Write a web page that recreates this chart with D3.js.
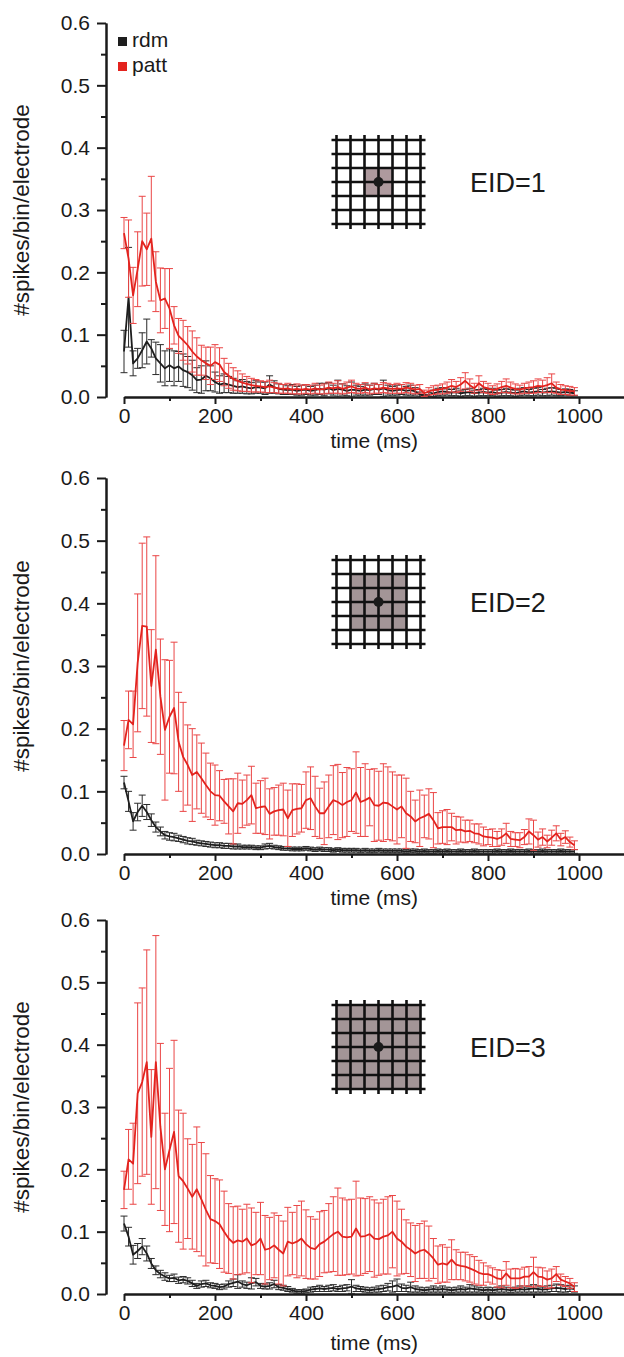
<!DOCTYPE html>
<meta charset="utf-8">
<title>Spikes per bin per electrode</title>
<style>
body { margin: 0; background: #fff; }
svg { display: block; font-family: "Liberation Sans", Arial, sans-serif; }
.axis path, .axis line { stroke: #1a1a1a; stroke-width: 2px; }
.axis text { font-size: 21px; fill: #1a1a1a; font-family: "Liberation Sans", Arial, sans-serif; }
</style>
<script src="https://d3js.org/d3.v7.min.js"></script>
<body>
<script>
// bins are 10 ms wide, first bin at 0 ms
var binMs = 10;
var seriesNames = ["rdm", "patt"];
var xTicks = [0, 200, 400, 600, 800, 1000];
var yTicks = [0.0, 0.1, 0.2, 0.3, 0.4, 0.5, 0.6];
var eidLabels = ["EID=1", "EID=2", "EID=3"];

// ---- EID=1 ----
var p1RdmMean = [
  0.073, 0.160, 0.054, 0.062, 0.075, 0.089, 0.078, 0.062, 0.054, 0.046,
  0.051, 0.046, 0.049, 0.043, 0.040, 0.035, 0.027, 0.028, 0.034, 0.030,
  0.024, 0.020, 0.022, 0.020, 0.018, 0.016, 0.017, 0.015, 0.014, 0.016,
  0.015, 0.014, 0.020, 0.016, 0.013, 0.012, 0.011, 0.012, 0.010, 0.011,
  0.012, 0.010, 0.011, 0.013, 0.012, 0.014, 0.011, 0.013, 0.012, 0.010,
  0.012, 0.011, 0.010, 0.012, 0.011, 0.013, 0.012, 0.014, 0.011, 0.010,
  0.011, 0.012, 0.010, 0.011, 0.009, 0.004, 0.001, 0.003, 0.006, 0.008,
  0.009, 0.008, 0.007, 0.008, 0.006, 0.007, 0.008, 0.006, 0.007, 0.008,
  0.007, 0.008, 0.006, 0.007, 0.008, 0.007, 0.006, 0.008, 0.009, 0.007,
  0.008, 0.009, 0.007, 0.008, 0.009, 0.008, 0.007, 0.008, 0.007, 0.006];
var p1RdmErr = [
  0.034, 0.080, 0.020, 0.016, 0.028, 0.036, 0.014, 0.026, 0.030, 0.028,
  0.026, 0.028, 0.024, 0.026, 0.025, 0.024, 0.020, 0.022, 0.024, 0.020,
  0.016, 0.014, 0.015, 0.013, 0.012, 0.010, 0.011, 0.010, 0.009, 0.010,
  0.009, 0.010, 0.014, 0.010, 0.008, 0.008, 0.007, 0.008, 0.007, 0.008,
  0.008, 0.007, 0.008, 0.009, 0.010, 0.009, 0.008, 0.014, 0.009, 0.008,
  0.012, 0.008, 0.007, 0.009, 0.008, 0.009, 0.008, 0.013, 0.008, 0.007,
  0.008, 0.008, 0.007, 0.008, 0.006, 0.004, 0.003, 0.004, 0.005, 0.006,
  0.006, 0.005, 0.005, 0.006, 0.005, 0.005, 0.006, 0.005, 0.005, 0.006,
  0.005, 0.006, 0.005, 0.005, 0.006, 0.005, 0.005, 0.006, 0.006, 0.005,
  0.006, 0.006, 0.005, 0.006, 0.006, 0.006, 0.005, 0.005, 0.005, 0.004];
var p1PattMean = [
  0.263, 0.222, 0.163, 0.205, 0.250, 0.237, 0.254, 0.185, 0.155, 0.158,
  0.142, 0.115, 0.098, 0.091, 0.083, 0.073, 0.065, 0.059, 0.054, 0.050,
  0.056, 0.052, 0.040, 0.034, 0.029, 0.026, 0.023, 0.021, 0.019, 0.018,
  0.017, 0.016, 0.017, 0.015, 0.014, 0.013, 0.014, 0.012, 0.013, 0.012,
  0.013, 0.012, 0.014, 0.012, 0.013, 0.015, 0.014, 0.016, 0.013, 0.015,
  0.017, 0.014, 0.013, 0.015, 0.012, 0.014, 0.013, 0.015, 0.014, 0.013,
  0.014, 0.013, 0.015, 0.014, 0.012, 0.013, 0.006, 0.009, 0.011, 0.012,
  0.013, 0.015, 0.018, 0.016, 0.020, 0.026, 0.019, 0.014, 0.022, 0.016,
  0.014, 0.011, 0.013, 0.016, 0.018, 0.015, 0.013, 0.012, 0.014, 0.015,
  0.016, 0.018, 0.017, 0.019, 0.022, 0.015, 0.012, 0.011, 0.010, 0.009];
var p1PattErr = [
  0.025, 0.062, 0.045, 0.060, 0.072, 0.058, 0.100, 0.048, 0.052, 0.048,
  0.064, 0.030, 0.028, 0.032, 0.030, 0.033, 0.030, 0.024, 0.026, 0.030,
  0.028, 0.027, 0.022, 0.020, 0.018, 0.016, 0.014, 0.012, 0.011, 0.010,
  0.009, 0.009, 0.010, 0.008, 0.008, 0.007, 0.008, 0.007, 0.008, 0.007,
  0.007, 0.007, 0.008, 0.007, 0.008, 0.009, 0.008, 0.010, 0.008, 0.009,
  0.010, 0.008, 0.007, 0.008, 0.007, 0.008, 0.007, 0.008, 0.008, 0.007,
  0.008, 0.007, 0.008, 0.008, 0.007, 0.007, 0.005, 0.006, 0.007, 0.007,
  0.008, 0.009, 0.010, 0.009, 0.011, 0.013, 0.010, 0.008, 0.012, 0.009,
  0.008, 0.007, 0.008, 0.009, 0.011, 0.009, 0.008, 0.007, 0.008, 0.009,
  0.010, 0.011, 0.010, 0.012, 0.015, 0.009, 0.008, 0.007, 0.007, 0.006];

// ---- EID=2 ----
var p2RdmMean = [
  0.114, 0.084, 0.052, 0.067, 0.077, 0.067, 0.054, 0.043, 0.036, 0.030,
  0.028, 0.027, 0.025, 0.023, 0.021, 0.020, 0.018, 0.017, 0.016, 0.015,
  0.014, 0.014, 0.013, 0.013, 0.012, 0.012, 0.011, 0.011, 0.011, 0.010,
  0.010, 0.012, 0.013, 0.011, 0.010, 0.009, 0.009, 0.008, 0.008, 0.008,
  0.009, 0.008, 0.007, 0.008, 0.007, 0.007, 0.006, 0.007, 0.006, 0.006,
  0.006, 0.006, 0.005, 0.006, 0.005, 0.005, 0.006, 0.005, 0.005, 0.005,
  0.005, 0.005, 0.004, 0.005, 0.005, 0.004, 0.005, 0.004, 0.004, 0.005,
  0.004, 0.005, 0.004, 0.004, 0.005, 0.004, 0.004, 0.005, 0.004, 0.004,
  0.004, 0.004, 0.005, 0.004, 0.004, 0.005, 0.004, 0.004, 0.004, 0.005,
  0.004, 0.004, 0.005, 0.004, 0.004, 0.004, 0.005, 0.004, 0.004, 0.004];
var p2RdmErr = [
  0.010, 0.016, 0.014, 0.014, 0.017, 0.012, 0.010, 0.008, 0.007, 0.006,
  0.006, 0.006, 0.005, 0.005, 0.005, 0.005, 0.004, 0.004, 0.004, 0.004,
  0.004, 0.004, 0.004, 0.004, 0.004, 0.004, 0.003, 0.003, 0.003, 0.003,
  0.003, 0.004, 0.004, 0.003, 0.003, 0.003, 0.003, 0.003, 0.003, 0.003,
  0.003, 0.003, 0.003, 0.003, 0.003, 0.003, 0.003, 0.003, 0.003, 0.003,
  0.003, 0.003, 0.003, 0.003, 0.003, 0.003, 0.003, 0.003, 0.003, 0.003,
  0.003, 0.003, 0.003, 0.003, 0.003, 0.003, 0.003, 0.003, 0.003, 0.003,
  0.003, 0.003, 0.003, 0.003, 0.003, 0.003, 0.003, 0.003, 0.003, 0.003,
  0.003, 0.003, 0.003, 0.003, 0.003, 0.003, 0.003, 0.003, 0.003, 0.003,
  0.003, 0.003, 0.003, 0.003, 0.003, 0.003, 0.003, 0.003, 0.003, 0.003];
var p2PattMean = [
  0.173, 0.214, 0.207, 0.305, 0.364, 0.363, 0.268, 0.326, 0.251, 0.198,
  0.219, 0.233, 0.179, 0.155, 0.142, 0.126, 0.131, 0.121, 0.110, 0.100,
  0.094, 0.093, 0.084, 0.076, 0.068, 0.081, 0.080, 0.086, 0.094, 0.073,
  0.075, 0.076, 0.064, 0.068, 0.070, 0.071, 0.057, 0.070, 0.072, 0.073,
  0.086, 0.089, 0.076, 0.065, 0.065, 0.076, 0.086, 0.083, 0.078, 0.083,
  0.086, 0.098, 0.083, 0.086, 0.090, 0.078, 0.077, 0.082, 0.081, 0.076,
  0.071, 0.076, 0.065, 0.060, 0.052, 0.057, 0.060, 0.064, 0.054, 0.041,
  0.043, 0.043, 0.043, 0.038, 0.039, 0.036, 0.037, 0.033, 0.032, 0.028,
  0.027, 0.026, 0.024, 0.027, 0.033, 0.024, 0.023, 0.022, 0.027, 0.036,
  0.030, 0.023, 0.027, 0.020, 0.026, 0.033, 0.023, 0.027, 0.019, 0.014];
var p2PattErr = [
  0.040, 0.046, 0.053, 0.110, 0.132, 0.143, 0.090, 0.150, 0.092, 0.112,
  0.090, 0.105, 0.079, 0.087, 0.064, 0.074, 0.059, 0.056, 0.051, 0.045,
  0.048, 0.040, 0.035, 0.044, 0.052, 0.048, 0.038, 0.040, 0.046, 0.040,
  0.042, 0.045, 0.040, 0.038, 0.040, 0.042, 0.045, 0.042, 0.040, 0.038,
  0.045, 0.050, 0.048, 0.040, 0.050, 0.050, 0.055, 0.060, 0.052, 0.055,
  0.050, 0.065, 0.055, 0.058, 0.045, 0.058, 0.055, 0.062, 0.058, 0.055,
  0.055, 0.050, 0.056, 0.040, 0.034, 0.045, 0.034, 0.040, 0.044, 0.025,
  0.026, 0.028, 0.022, 0.022, 0.020, 0.018, 0.017, 0.015, 0.016, 0.015,
  0.012, 0.014, 0.012, 0.013, 0.016, 0.012, 0.011, 0.012, 0.012, 0.020,
  0.024, 0.012, 0.013, 0.010, 0.012, 0.012, 0.010, 0.010, 0.008, 0.007];

// ---- EID=3 ----
var p3RdmMean = [
  0.113, 0.092, 0.063, 0.069, 0.076, 0.065, 0.049, 0.038, 0.032, 0.028,
  0.025, 0.026, 0.022, 0.023, 0.021, 0.017, 0.013, 0.016, 0.017, 0.014,
  0.013, 0.011, 0.012, 0.016, 0.018, 0.020, 0.016, 0.014, 0.017, 0.019,
  0.013, 0.012, 0.013, 0.016, 0.011, 0.010, 0.008, 0.006, 0.004, 0.004,
  0.005, 0.007, 0.008, 0.009, 0.008, 0.009, 0.010, 0.008, 0.009, 0.010,
  0.012, 0.009, 0.008, 0.007, 0.006, 0.007, 0.008, 0.009, 0.011, 0.012,
  0.014, 0.010, 0.009, 0.011, 0.008, 0.007, 0.006, 0.007, 0.008, 0.007,
  0.008, 0.007, 0.006, 0.007, 0.008, 0.007, 0.009, 0.008, 0.007, 0.006,
  0.007, 0.006, 0.007, 0.008, 0.007, 0.006, 0.007, 0.008, 0.007, 0.008,
  0.009, 0.008, 0.007, 0.008, 0.009, 0.010, 0.009, 0.008, 0.009, 0.008];
var p3RdmErr = [
  0.012, 0.015, 0.015, 0.012, 0.013, 0.012, 0.008, 0.007, 0.006, 0.006,
  0.005, 0.006, 0.005, 0.005, 0.005, 0.005, 0.004, 0.005, 0.005, 0.004,
  0.004, 0.004, 0.004, 0.005, 0.006, 0.011, 0.005, 0.005, 0.009, 0.006,
  0.004, 0.004, 0.005, 0.006, 0.004, 0.004, 0.004, 0.003, 0.003, 0.003,
  0.003, 0.004, 0.004, 0.005, 0.004, 0.005, 0.005, 0.004, 0.005, 0.005,
  0.011, 0.005, 0.004, 0.004, 0.004, 0.004, 0.005, 0.005, 0.006, 0.009,
  0.010, 0.006, 0.005, 0.008, 0.005, 0.004, 0.004, 0.004, 0.005, 0.004,
  0.005, 0.004, 0.004, 0.004, 0.005, 0.004, 0.006, 0.005, 0.004, 0.004,
  0.004, 0.004, 0.004, 0.005, 0.004, 0.004, 0.004, 0.005, 0.004, 0.005,
  0.006, 0.005, 0.004, 0.005, 0.005, 0.006, 0.006, 0.005, 0.005, 0.005];
var p3PattMean = [
  0.167, 0.216, 0.209, 0.322, 0.340, 0.372, 0.252, 0.372, 0.268, 0.200,
  0.231, 0.260, 0.189, 0.181, 0.169, 0.156, 0.168, 0.152, 0.135, 0.120,
  0.117, 0.112, 0.100, 0.089, 0.082, 0.086, 0.084, 0.089, 0.078, 0.081,
  0.089, 0.071, 0.073, 0.078, 0.071, 0.065, 0.084, 0.081, 0.084, 0.089,
  0.080, 0.074, 0.072, 0.080, 0.084, 0.090, 0.096, 0.100, 0.092, 0.091,
  0.092, 0.105, 0.092, 0.093, 0.096, 0.089, 0.088, 0.092, 0.094, 0.100,
  0.089, 0.084, 0.076, 0.071, 0.065, 0.069, 0.071, 0.065, 0.057, 0.047,
  0.049, 0.047, 0.055, 0.047, 0.045, 0.044, 0.041, 0.038, 0.034, 0.032,
  0.032, 0.029, 0.025, 0.024, 0.033, 0.025, 0.025, 0.025, 0.028, 0.028,
  0.035, 0.028, 0.027, 0.023, 0.025, 0.032, 0.023, 0.020, 0.017, 0.011];
var p3PattErr = [
  0.030, 0.048, 0.065, 0.145, 0.151, 0.180, 0.108, 0.203, 0.134, 0.090,
  0.131, 0.147, 0.106, 0.109, 0.080, 0.084, 0.100, 0.091, 0.090, 0.070,
  0.068, 0.071, 0.065, 0.056, 0.058, 0.055, 0.052, 0.055, 0.060, 0.050,
  0.058, 0.055, 0.050, 0.052, 0.055, 0.052, 0.055, 0.050, 0.058, 0.060,
  0.055, 0.050, 0.048, 0.052, 0.050, 0.055, 0.060, 0.070, 0.062, 0.060,
  0.060, 0.076, 0.062, 0.060, 0.060, 0.062, 0.058, 0.060, 0.062, 0.058,
  0.060, 0.052, 0.043, 0.043, 0.045, 0.044, 0.046, 0.044, 0.032, 0.030,
  0.030, 0.028, 0.032, 0.024, 0.022, 0.023, 0.022, 0.022, 0.020, 0.018,
  0.013, 0.013, 0.014, 0.014, 0.019, 0.015, 0.016, 0.015, 0.015, 0.016,
  0.024, 0.015, 0.015, 0.014, 0.015, 0.012, 0.009, 0.008, 0.008, 0.007];

var width = 624, height = 1357;
var colors = { rdm: "#1e1e1e", patt: "#e3231e" };
var errColors = { rdm: "#2a2a2a", patt: "#ea4545" };

// layout of the three stacked panels (pixel positions)
var panels = [
  { top: 23,  bottom: 397,  titleDy: 51, iconY: 182,  shade: 1, shadeColor: "#ae9a9e",
    rdm: [p1RdmMean, p1RdmErr], patt: [p1PattMean, p1PattErr], legend: true },
  { top: 478, bottom: 854,  titleDy: 51, iconY: 602,  shade: 2, shadeColor: "#a39597",
    rdm: [p2RdmMean, p2RdmErr], patt: [p2PattMean, p2PattErr], legend: false },
  { top: 920, bottom: 1294, titleDy: 56, iconY: 1047, shade: 3, shadeColor: "#a39597",
    rdm: [p3RdmMean, p3RdmErr], patt: [p3PattMean, p3PattErr], legend: false }
];

var svg = d3.select("body").append("svg")
    .attr("width", width)
    .attr("height", height);

svg.append("rect").attr("width", width).attr("height", height).attr("fill", "#fff");

var x = d3.scaleLinear().domain([0, 1100]).range([124, 624.5]);
var yAxisX = 106;

panels.forEach(function(p, pi) {
  var g = svg.append("g");
  var y = d3.scaleLinear().domain([0, 0.6]).range([p.bottom, p.top]);

  // y axis: minor then major ticks
  g.append("g").attr("class", "axis")
      .attr("transform", "translate(" + yAxisX + ",0)")
      .call(d3.axisLeft(y).tickValues(d3.range(0.05, 0.6, 0.1)).tickSize(5).tickSizeOuter(0).tickFormat(""));
  g.append("g").attr("class", "axis")
      .attr("transform", "translate(" + yAxisX + ",0)")
      .call(d3.axisLeft(y).tickValues(yTicks).tickSize(9).tickPadding(7).tickSizeOuter(0).tickFormat(d3.format(".1f")));

  // x axis
  g.append("g").attr("class", "axis")
      .attr("transform", "translate(0," + p.bottom + ")")
      .call(d3.axisBottom(x).tickValues([100, 300, 500, 700, 900, 1100]).tickSize(4).tickSizeOuter(0).tickFormat(""));
  g.append("g").attr("class", "axis")
      .attr("transform", "translate(0," + p.bottom + ")")
      .call(d3.axisBottom(x).tickValues(xTicks).tickSize(7).tickPadding(4).tickSizeOuter(0).tickFormat(d3.format("d")));

  g.append("text")
      .attr("x", x(550)).attr("y", p.bottom + p.titleDy)
      .attr("text-anchor", "middle")
      .attr("font-size", 21).attr("fill", "#1a1a1a")
      .text("time (ms)");

  g.append("text")
      .attr("transform", "translate(29," + ((p.top + p.bottom) / 2) + ") rotate(-90)")
      .attr("text-anchor", "middle")
      .attr("font-size", 22.5).attr("fill", "#1a1a1a")
      .text("#spikes/bin/electrode");

  // series: error bars then line
  seriesNames.forEach(function(name) {
    var mean = p[name][0], err = p[name][1];
    var pts = mean.map(function(m, i) { return { t: i * binMs, m: m, e: err[i] }; });
    var eg = g.append("g").attr("stroke", errColors[name]).attr("stroke-width", 1).attr("fill", "none");
    var bars = eg.selectAll("g").data(pts).enter().append("g");
    bars.append("line")
        .attr("x1", function(d) { return x(d.t); }).attr("x2", function(d) { return x(d.t); })
        .attr("y1", function(d) { return y(Math.max(0, d.m - d.e)); })
        .attr("y2", function(d) { return y(d.m + d.e); });
    bars.append("line")
        .attr("x1", function(d) { return x(d.t) - 3.5; }).attr("x2", function(d) { return x(d.t) + 3.5; })
        .attr("y1", function(d) { return y(d.m + d.e); }).attr("y2", function(d) { return y(d.m + d.e); });
    bars.append("line")
        .attr("x1", function(d) { return x(d.t) - 3.5; }).attr("x2", function(d) { return x(d.t) + 3.5; })
        .attr("y1", function(d) { return y(Math.max(0, d.m - d.e)); }).attr("y2", function(d) { return y(Math.max(0, d.m - d.e)); });

    g.append("path")
        .datum(pts)
        .attr("fill", "none")
        .attr("stroke", colors[name])
        .attr("stroke-width", 1.8)
        .attr("stroke-linejoin", "round")
        .attr("d", d3.line().x(function(d) { return x(d.t); }).y(function(d) { return y(d.m); }));
  });

  // electrode grid icon
  var cx = 378.5, cy = p.iconY, step = 14;
  var icon = g.append("g");
  icon.append("rect")
      .attr("x", cx - p.shade * step).attr("y", cy - p.shade * step)
      .attr("width", 2 * p.shade * step).attr("height", 2 * p.shade * step)
      .attr("fill", p.shadeColor);
  d3.range(-3, 4).forEach(function(k) {
    icon.append("line").attr("x1", cx - 47).attr("x2", cx + 47)
        .attr("y1", cy + k * step).attr("y2", cy + k * step)
        .attr("stroke", "#111").attr("stroke-width", 2.6);
    icon.append("line").attr("y1", cy - 47).attr("y2", cy + 47)
        .attr("x1", cx + k * step).attr("x2", cx + k * step)
        .attr("stroke", "#111").attr("stroke-width", 2.6);
  });
  icon.append("circle").attr("cx", cx).attr("cy", cy).attr("r", 5).attr("fill", "#1a1a1a");

  g.append("text")
      .attr("x", 470).attr("y", cy + 10)
      .attr("font-size", 27).attr("fill", "#1a1a1a")
      .text(eidLabels[pi]);

  if (p.legend) {
    var lg = g.append("g");
    seriesNames.forEach(function(name, i) {
      lg.append("rect").attr("x", 118).attr("y", 37 + i * 25).attr("width", 9).attr("height", 9)
          .attr("fill", colors[name]);
      lg.append("text").attr("x", 132).attr("y", 47 + i * 25)
          .attr("font-size", 21).attr("fill", "#1a1a1a").text(name);
    });
  }
});
</script>
